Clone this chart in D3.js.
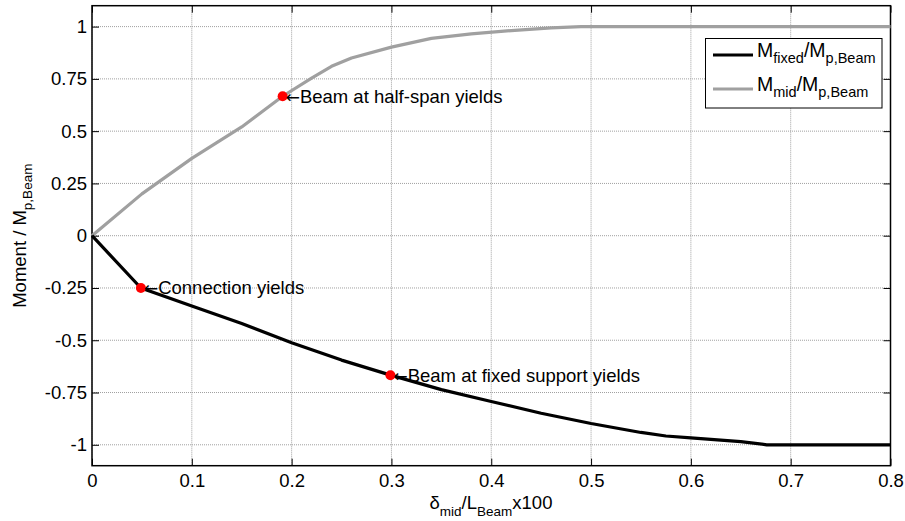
<!DOCTYPE html>
<html><head><meta charset="utf-8">
<script src="https://cdn.jsdelivr.net/npm/d3@7"></script>
<style>
body{margin:0;background:#fff;}
text{font-family:"Liberation Sans",Arial,sans-serif;}
</style></head>
<body><svg id="c" width="905" height="521"></svg>
<script>
const xTicks = [0, 0.1, 0.2, 0.3, 0.4, 0.5, 0.6, 0.7, 0.8];
const xTickLabels = ["0", "0.1", "0.2", "0.3", "0.4", "0.5", "0.6", "0.7", "0.8"];
const yTicks = [-1, -0.75, -0.5, -0.25, 0, 0.25, 0.5, 0.75, 1];
const yTickLabels = ["-1", "-0.75", "-0.5", "-0.25", "0", "0.25", "0.5", "0.75", "1"];

const fixedX = [0, 0.049, 0.1, 0.15, 0.2, 0.25, 0.3, 0.35, 0.4, 0.45, 0.5, 0.55, 0.575, 0.6, 0.65, 0.676, 0.8];
const fixedY = [0, -0.25, -0.336, -0.42, -0.512, -0.595, -0.668, -0.736, -0.793, -0.849, -0.898, -0.941, -0.958, -0.967, -0.985, -1, -1];

const midX = [0, 0.05, 0.1, 0.125, 0.15, 0.17, 0.191, 0.22, 0.24, 0.26, 0.3, 0.34, 0.38, 0.42, 0.46, 0.49, 0.8];
const midY = [0, 0.2, 0.37, 0.445, 0.52, 0.592, 0.667, 0.754, 0.81, 0.85, 0.902, 0.944, 0.965, 0.981, 0.994, 1, 1];

const eventX = [0.049, 0.191, 0.299];
const eventY = [-0.25, 0.667, -0.667];
const eventLabels = ["Connection yields", "Beam at half-span yields", "Beam at fixed support yields"];

const L = 92, R = 890.5, T = 5.7, B = 465.7;
const svg = d3.select("#c");
const x = d3.scaleLinear().domain([0, 0.8]).range([L, R]);
const y = d3.scaleLinear().domain([-1.1, 1.1]).range([B, T]);
const FS = 18.5;

// grid
const g = svg.append("g");
xTicks.forEach(v => g.append("line").attr("x1", x(v)).attr("x2", x(v)).attr("y1", T).attr("y2", B)
  .attr("stroke", "#a0a0a0").attr("stroke-width", 1).attr("stroke-dasharray", "1,1"));
yTicks.forEach(v => g.append("line").attr("x1", L).attr("x2", R).attr("y1", y(v)).attr("y2", y(v))
  .attr("stroke", "#a0a0a0").attr("stroke-width", 1).attr("stroke-dasharray", "1,1"));

// axes
const tl = 7;
const xb = svg.append("g").attr("transform", `translate(0,${B})`)
  .call(d3.axisBottom(x).tickValues(xTicks).tickFormat((d, i) => xTickLabels[i]).tickSizeInner(-tl).tickSizeOuter(0).tickPadding(8));
const xt = svg.append("g").attr("transform", `translate(0,${T})`)
  .call(d3.axisTop(x).tickValues(xTicks).tickFormat("").tickSizeInner(-tl).tickSizeOuter(0));
const yl = svg.append("g").attr("transform", `translate(${L},0)`)
  .call(d3.axisLeft(y).tickValues(yTicks).tickFormat((d, i) => yTickLabels[i]).tickSizeInner(-tl).tickSizeOuter(0).tickPadding(5));
const yr = svg.append("g").attr("transform", `translate(${R},0)`)
  .call(d3.axisRight(y).tickValues(yTicks).tickFormat("").tickSizeInner(-tl).tickSizeOuter(0));
[xb, xt, yl, yr].forEach(a => {
  a.selectAll("path").remove();
  a.selectAll("line").attr("stroke", "#000");
  a.selectAll("text").attr("font-size", FS).attr("font-family", "Liberation Sans, Arial, sans-serif").attr("fill", "#000");
});
svg.append("rect").attr("x", L).attr("y", T).attr("width", R - L).attr("height", B - T)
  .attr("fill", "none").attr("stroke", "#000").attr("stroke-width", 1.5);

// lines
const line = d3.line().x(d => x(d[0])).y(d => y(d[1]));
svg.append("path").datum(midX.map((v, i) => [v, midY[i]])).attr("d", line)
  .attr("fill", "none").attr("stroke", "#a0a0a0").attr("stroke-width", 3.2).attr("stroke-linejoin", "round");
svg.append("path").datum(fixedX.map((v, i) => [v, fixedY[i]])).attr("d", line)
  .attr("fill", "none").attr("stroke", "#000").attr("stroke-width", 3.2).attr("stroke-linejoin", "round");

// events
eventX.forEach((v, i) => {
  svg.append("circle").attr("cx", x(v)).attr("cy", y(eventY[i])).attr("r", 5).attr("fill", "#ff0000");
  const t = svg.append("text").attr("x", x(v) + 3).attr("y", y(eventY[i])).attr("dy", "0.35em")
    .attr("font-size", FS);
  t.append("tspan").attr("font-family", "DejaVu Sans").attr("font-size", 17).text("\u2190");
  t.append("tspan").text(eventLabels[i]);
});

// legend
const lg = svg.append("g");
lg.append("rect").attr("x", 705.5).attr("y", 38.5).attr("width", 176.5).attr("height", 69.5)
  .attr("fill", "#fff").attr("stroke", "#000").attr("stroke-width", 1);
const legItems = [["fixed", "#000", 55], ["mid", "#a0a0a0", 89]];
legItems.forEach(([sub, col, yy]) => {
  lg.append("line").attr("x1", 713).attr("x2", 753).attr("y1", yy).attr("y2", yy)
    .attr("stroke", col).attr("stroke-width", 3.2);
  const t = lg.append("text").attr("x", 757).attr("y", yy + 2).attr("font-size", 19.5);
  t.append("tspan").text("M");
  t.append("tspan").attr("font-size", 14.5).attr("dy", 6).text(sub);
  t.append("tspan").attr("dy", -6).text("/M");
  t.append("tspan").attr("font-size", 14.5).attr("dy", 6).text("p,Beam");
});

// axis labels
const xlab = svg.append("text").attr("x", 491).attr("y", 509).attr("text-anchor", "middle").attr("font-size", FS);
xlab.append("tspan").text("\u03b4");
xlab.append("tspan").attr("font-size", 13.5).attr("dy", 7).text("mid");
xlab.append("tspan").attr("dy", -7).text("/L");
xlab.append("tspan").attr("font-size", 13.5).attr("dy", 7).text("Beam");
xlab.append("tspan").attr("dy", -7).text("x100");

const ylab = svg.append("text").attr("transform", `translate(26,${(T + B) / 2}) rotate(-90)`)
  .attr("text-anchor", "middle").attr("font-size", FS);
ylab.append("tspan").text("Moment / M");
ylab.append("tspan").attr("font-size", 13.5).attr("dy", 6).text("p,Beam");
</script></body></html>
